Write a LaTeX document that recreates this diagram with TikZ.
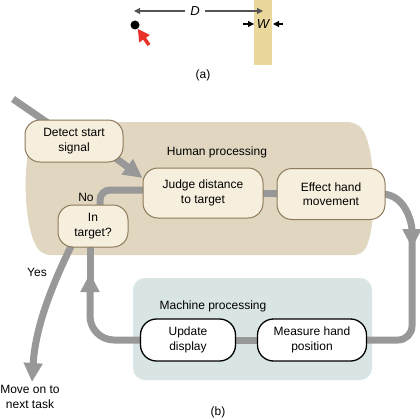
\documentclass[tikz,border=0pt]{standalone}
\usepackage{fontspec}
\setmainfont{Liberation Sans}
\usetikzlibrary{arrows.meta,calc}
\definecolor{flowgray}{RGB}{152,152,152}
\definecolor{humanbg}{RGB}{225,215,192}
\definecolor{nodefill}{RGB}{247,239,222}
\definecolor{nodeedge}{RGB}{140,122,92}
\definecolor{machbg}{RGB}{216,229,228}
\definecolor{targety}{RGB}{233,215,155}
\definecolor{redarrow}{RGB}{232,48,40}
\definecolor{dimgray}{RGB}{85,85,85}
\pgfdeclarelayer{bg}
\pgfdeclarelayer{conn}
\pgfsetlayers{bg,conn,main}
\tikzset{
  txt/.style={font=\fontsize{12}{14.5}\selectfont, align=center, inner sep=0pt},
  procbox/.style={txt, draw=nodeedge, fill=nodefill, line width=1pt, rounded corners=15pt},
  machbox/.style={txt, draw=black, fill=white, line width=1.3pt, rounded corners=16pt},
  flow/.style={draw=flowgray, line width=7pt},
  bigtip/.style={-{Triangle[width=18pt,length=19pt]}},
  dimarrow/.style={draw=dimgray, line width=1.1pt, -{Triangle[width=6pt,length=6pt]}},
}
\begin{document}
\begin{tikzpicture}[x=1pt,y=-1pt]
\useasboundingbox (0,0) rectangle (420,420);
% ---------- part (a)
\fill[targety] (254,0) rectangle (272,65);
\node[circle, fill=black, minimum size=9pt, inner sep=0pt] (dot) at (135,25) {};
\coordinate (redtail) at (149,45);
\draw[draw=redarrow, line width=3.5pt, -{Triangle[width=12pt,length=12pt]}] (redtail) -- (dot);
\node[txt, inner sep=5pt, font=\fontsize{13}{15}\selectfont\itshape] (Dlab) at (195,11) {D};
\coordinate (Dl) at (134,11);
\coordinate (Dr) at (263,11);
\draw[dimarrow] (Dlab) -- (Dl);
\draw[dimarrow] (Dlab) -- (Dr);
\node[txt, font=\fontsize{13}{15}\selectfont\itshape] (Wlab) at (263,24) {W};
\coordinate (Wl) at (243,24);
\coordinate (Wlt) at (254,24);
\coordinate (Wr) at (283,24);
\coordinate (Wrt) at (273,24);
\draw[draw=black, line width=1.1pt, -{Triangle[width=6pt,length=6pt]}] (Wl) -- (Wlt);
\draw[draw=black, line width=1.1pt, -{Triangle[width=6pt,length=6pt]}] (Wr) -- (Wrt);
\node[txt] (alab) at (203,75) {(a)};
% ---------- part (b) nodes
\node[procbox, minimum width=98pt, minimum height=42pt] (det) at (74,141) {Detect start\\signal};
\node[procbox, minimum width=120pt, minimum height=50pt] (judge) at (203,193) {Judge distance\\to target};
\node[procbox, minimum width=108pt, minimum height=51pt] (effect) at (331,194) {Effect hand\\movement};
\node[procbox, minimum width=70pt, minimum height=42pt] (intarget) at (93,226) {In\\target?};
\node[machbox, minimum width=95pt, minimum height=42pt] (update) at (188,340) {Update\\display};
\node[machbox, minimum width=109pt, minimum height=42pt] (measure) at (312,340) {Measure hand\\position};
\node[txt] (human) at (217,152) {Human processing};
\node[txt] (machine) at (213,306) {Machine processing};
\node[txt] (no) at (86,197) {No};
\node[txt] (yes) at (37,272) {Yes};
\node[txt] (moveon) at (30,397) {Move on to\\next task};
\node[txt] (blab) at (218,412) {(b)};
% ---------- backgrounds
\begin{pgfonlayer}{bg}
\fill[humanbg, rounded corners=8pt] (40,122) -- (356,122) .. controls (376,145) and (378,225) .. (362,255) -- (42,255) .. controls (22,225) and (22,150) .. cycle;
\fill[machbg, rounded corners=12pt] (133,278) rectangle (372,380);
\end{pgfonlayer}
% ---------- connectors
\begin{pgfonlayer}{conn}
\coordinate (s0) at (13,99);
\draw[flow] (s0) -- (det.center);
\draw[flow, bigtip] ([xshift=-10pt,yshift=6pt]det.south east) -- ([yshift=15pt]judge.west);
\draw[flow] (judge.center) -- (effect.center);
\draw[flow, rounded corners=10pt] ([xshift=7pt]intarget.center) |- ([yshift=3pt]judge.center);
\coordinate (r1) at (412,248);
\coordinate (r0) at (412,236);
\draw[flow, bigtip] ([xshift=-4pt]effect.east) to[out=0,in=90] (r1);
\draw[flow, rounded corners=14pt] (r0) |- (measure.center);
\draw[flow] (measure.center) -- (update.center);
\coordinate (u1) at (90,273);
\coordinate (u2) at (90,286);
\draw[flow, bigtip, rounded corners=24pt] (update.center) -| (u1);
\draw[flow] (u2) -- (u2 |- intarget.center);
\coordinate (yesend) at (32,382);
\draw[flow, bigtip] ([xshift=-12pt]intarget.center) .. controls (60,268) and (36,318) .. (yesend);
\end{pgfonlayer}
\end{tikzpicture}
\end{document}
